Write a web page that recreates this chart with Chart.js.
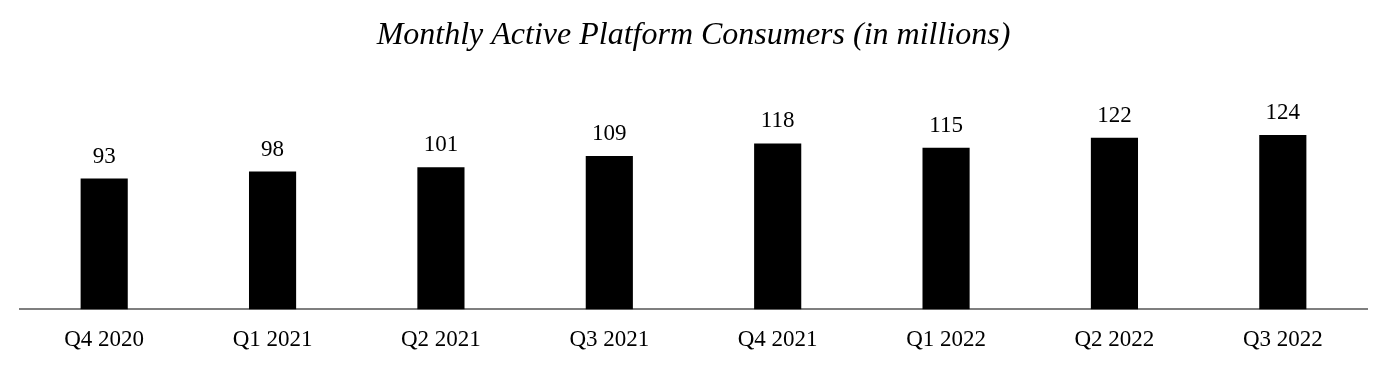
<!DOCTYPE html>
<html>
<head>
<meta charset="utf-8">
<script src="https://cdn.jsdelivr.net/npm/chart.js@4/dist/chart.umd.min.js"></script>
<style>
    html, body { margin: 0; padding: 0; background: #fff; }
    #wrap { width: 1386px; height: 372px; }
</style>
</head>
<body>
<div id="wrap"><canvas id="mapcChart"></canvas></div>
<script>
// Chart data
const quarters = ['Q4 2020', 'Q1 2021', 'Q2 2021', 'Q3 2021', 'Q4 2021', 'Q1 2022', 'Q2 2022', 'Q3 2022'];
const consumers = [93, 98, 101, 109, 118, 115, 122, 124];

const serif = "'Liberation Serif', 'Times New Roman', serif";

// value labels above each bar
const barLabels = {
    id: 'barLabels',
    afterDatasetsDraw(chart) {
        const ctx = chart.ctx;
        const meta = chart.getDatasetMeta(0);
        ctx.save();
        ctx.font = '23px ' + serif;
        ctx.fillStyle = '#000';
        ctx.textAlign = 'center';
        ctx.textBaseline = 'alphabetic';
        meta.data.forEach((bar, i) => {
            ctx.fillText(String(consumers[i]), bar.x, bar.y - 16);
        });
        ctx.restore();
    }
};

new Chart(document.getElementById('mapcChart'), {
    type: 'bar',
    data: {
        labels: quarters,
        datasets: [{
            label: 'Monthly Active Platform Consumers',
            data: consumers,
            backgroundColor: '#000000',
            barPercentage: 0.28,
            categoryPercentage: 1
        }]
    },
    options: {
        responsive: true,
        maintainAspectRatio: false,
        animation: false,
        layout: {
            padding: { left: 20, right: 19, top: 0, bottom: 1 }
        },
        plugins: {
            legend: { display: false },
            tooltip: { enabled: false },
            title: {
                display: true,
                text: 'Monthly Active Platform Consumers (in millions)',
                color: '#000',
                font: { family: serif, size: 32, style: 'italic', weight: 'normal' },
                padding: { top: 16, bottom: 44 }
            }
        },
        scales: {
            x: {
                grid: { display: false, drawTicks: false },
                border: { display: true, color: '#7f7f7f', width: 2 },
                ticks: {
                    color: '#000',
                    padding: 17,
                    font: { family: serif, size: 23 }
                }
            },
            y: {
                display: false,
                min: 0,
                max: 150
            }
        }
    },
    plugins: [barLabels]
});
</script>
</body>
</html>
